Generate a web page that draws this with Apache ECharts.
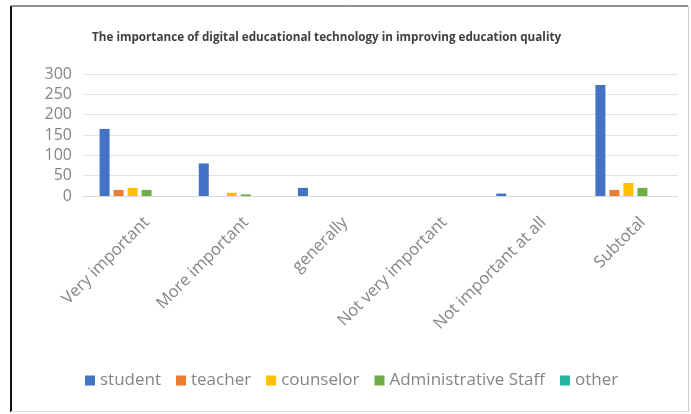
<!DOCTYPE html>
<html>
<head>
<meta charset="utf-8">
<script src="https://cdn.jsdelivr.net/npm/echarts@6/dist/echarts.min.js"></script>
<style>
  html, body { margin: 0; padding: 0; background: #fff; }
  #main { width: 691px; height: 414px; }
</style>
</head>
<body>
<div id="main"></div>
<script>
var categories = ['Very important', 'More important', 'generally', 'Not very important', 'Not important at all', 'Subtotal'];
var student = [165, 80, 20, 0, 6, 273];
var teacher = [15, 0, 0, 0, 0, 15];
var counselor = [20, 8, 0, 0, 0, 32];
var adminStaff = [15, 4, 0, 0, 0, 20];
var other = [0, 0, 0, 0, 0, 0];
var yTicks = [0, 50, 100, 150, 200, 250, 300];

function chart() {
    var dom = document.getElementById('main');
    var myChart = echarts.init(dom);
    var font = 'Open Sans';
    var labelColor = '#858585';

    function bar(name, data, color) {
        return {
            name: name,
            type: 'bar',
            data: data,
            barWidth: 10,
            barGap: '40%',
            itemStyle: { color: color }
        };
    }

    var option = {
        textStyle: { fontFamily: font },
        title: {
            text: 'The importance of digital educational technology in improving education quality',
            left: 87,
            top: 27,
            textStyle: { fontSize: 11.7, fontWeight: 'bold', color: '#404040', fontFamily: font }
        },
        legend: {
            bottom: 20,
            left: 80,
            itemWidth: 10,
            itemHeight: 10,
            itemGap: 15,
            icon: 'rect',
            textStyle: { fontSize: 17, color: labelColor, fontFamily: font }
        },
        grid: { left: 83, right: 13, top: 74, bottom: 218 },
        xAxis: {
            type: 'category',
            data: categories,
            axisLine: { lineStyle: { color: '#d9d9d9' } },
            axisTick: { show: false },
            axisLabel: {
                rotate: 45, interval: 0, fontSize: 16.5, color: labelColor,
                margin: 38, padding: [0, -20, 0, 0]
            }
        },
        yAxis: {
            type: 'value',
            min: 0,
            max: yTicks[yTicks.length - 1],
            interval: 50,
            axisLine: { show: false },
            axisTick: { show: false },
            splitLine: { lineStyle: { color: '#e3e3e3' } },
            axisLabel: { fontSize: 16, color: labelColor, margin: 11 }
        },
        graphic: [
            { type: 'line', shape: { x1: 11, y1: 6, x2: 11, y2: 412 }, style: { stroke: '#111', lineWidth: 2 } },
            { type: 'line', shape: { x1: 11, y1: 6, x2: 688, y2: 6 }, style: { stroke: '#222', lineWidth: 1 } },
            { type: 'line', shape: { x1: 688.5, y1: 6, x2: 688.5, y2: 412 }, style: { stroke: '#cfcfcf', lineWidth: 1 } },
            { type: 'line', shape: { x1: 11, y1: 411.5, x2: 688, y2: 411.5 }, style: { stroke: '#dcdcdc', lineWidth: 1 } }
        ],
        series: [
            bar('student', student, '#4472C4'),
            bar('teacher', teacher, '#ED7D31'),
            bar('counselor', counselor, '#FFC000'),
            bar('Administrative Staff', adminStaff, '#70AD47'),
            bar('other', other, '#26B5A3')
        ]
    };
    myChart.setOption(option, true);
}
chart();
</script>
</body>
</html>
